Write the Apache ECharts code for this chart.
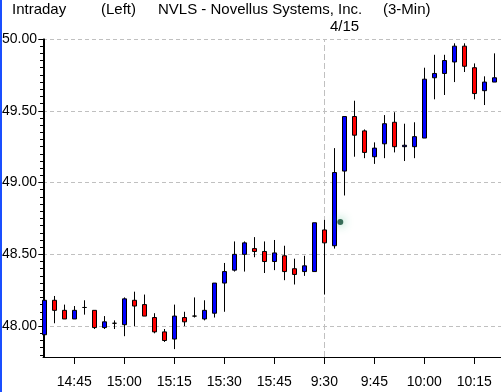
<!DOCTYPE html>
<html><head><meta charset="utf-8">
<script src="https://cdn.jsdelivr.net/npm/echarts@6/dist/echarts.min.js"></script>
<style>html,body{margin:0;padding:0;background:#fff}#c{width:501px;height:392px}</style>
</head><body><div id="c"></div>
<script>
// 3-minute bars, 4/14 afternoon then 4/15 morning
const times = ['14:36','14:39','14:42','14:45','14:48','14:51','14:54','14:57','15:00','15:03',
  '15:06','15:09','15:12','15:15','15:18','15:21','15:24','15:27','15:30','15:33',
  '15:36','15:39','15:42','15:45','15:48','15:51','15:54','15:57',
  '9:30','9:33','9:36','9:39','9:42','9:45','9:48','9:51','9:54','9:57',
  '10:00','10:03','10:06','10:09','10:12','10:15','10:18','10:21'];
const opens  = [47.94,48.18,48.11,48.05,48.13,48.11,47.99,48.02,48.01,48.18,
  48.15,48.06,47.96,47.91,48.06,48.07,48.05,48.09,48.30,48.39,
  48.50,48.54,48.52,48.45,48.49,48.40,48.38,48.38,
  48.67,48.56,49.08,49.46,49.36,49.18,49.27,49.42,49.25,49.25,
  49.31,49.73,49.76,49.84,49.95,49.80,49.64,49.70];
const closes = [48.18,48.11,48.05,48.11,48.13,47.99,48.03,48.02,48.19,48.14,
  48.07,47.96,47.90,48.07,48.03,48.07,48.11,48.30,48.38,48.50,
  48.58,48.52,48.45,48.51,48.38,48.36,48.42,48.72,
  48.58,49.07,49.46,49.33,49.21,49.24,49.41,49.25,49.26,49.32,
  49.72,49.76,49.85,49.95,49.81,49.62,49.70,49.73];
const lows   = [47.92,48.02,48.05,48.05,48.08,47.98,47.98,47.98,47.93,48.00,
  48.07,47.95,47.89,47.84,48.00,48.06,48.04,48.06,48.10,48.38,
  48.38,48.48,48.37,48.39,48.32,48.29,48.35,48.38,
  48.22,48.54,48.91,49.18,49.17,49.13,49.17,49.21,49.15,49.17,
  49.31,49.58,49.61,49.70,49.77,49.58,49.54,49.70];
const highs  = [48.19,48.21,48.15,48.14,48.18,48.11,48.07,48.04,48.20,48.24,
  48.22,48.09,47.98,48.15,48.10,48.20,48.18,48.30,48.44,48.59,
  48.59,48.62,48.59,48.60,48.56,48.47,48.49,48.72,
  48.74,49.24,49.46,49.57,49.37,49.28,49.47,49.49,49.41,49.42,
  49.80,49.89,49.89,49.97,49.97,49.83,49.74,49.90];
const tickTimes = ['14:45','15:00','15:15','15:30','15:45','9:30','9:45','10:00','10:15'];
const yTickValues = [48.00,48.50,49.00,49.50,50.00];
const dayBreakTime = '9:30';
const dayBreakLabel = '4/15';
const cursorPoint = [29.6, 48.726];

const tickIdx = tickTimes.map(t => times.indexOf(t));
const candleData = times.map((t, i) => [i, opens[i], closes[i], lows[i], highs[i]]);
const minorVals = [];
for (let v = 47.80; v <= 50.001; v += 0.05) minorVals.push(+v.toFixed(2));

const FONT = '"Liberation Sans", Arial, sans-serif';
const chart = echarts.init(document.getElementById('c'), null, {renderer: 'canvas'});
chart.setOption({
  animation: false,
  backgroundColor: '#fff',
  grid: {left: 43, right: 0, top: 39, bottom: 35, outerBoundsMode: 'none'},
  xAxis: {
    type: 'value', min: -0.13, max: 45.67,
    axisLine: {show: true, lineStyle: {color: '#000', width: 1}},
    axisTick: {show: true, length: 7, customValues: tickIdx, lineStyle: {color: '#000'}},
    axisLabel: {show: true, customValues: tickIdx, margin: 18, color: '#000',
      fontFamily: FONT, fontSize: 14, formatter: v => times[Math.round(v)]},
    splitLine: {show: false}
  },
  yAxis: [{
    type: 'value', position: 'left', min: 47.785, max: 50.0,
    axisLine: {show: true, lineStyle: {color: '#000', width: 1}},
    axisTick: {show: true, length: 6, customValues: yTickValues, lineStyle: {color: '#000'}},
    axisLabel: {show: true, customValues: yTickValues, margin: 6, color: '#000',
      fontFamily: FONT, fontSize: 14, formatter: v => v.toFixed(2)},
    splitLine: {show: true, lineStyle: {color: '#c0c0c0', type: [4, 3], width: 1}}
  }, {
    type: 'value', position: 'left', offset: 0, min: 47.785, max: 50.0,
    axisLine: {show: true, lineStyle: {color: '#000', width: 1}},
    axisTick: {show: true, length: 3, customValues: minorVals, lineStyle: {color: '#000'}},
    axisLabel: {show: false},
    splitLine: {show: false}
  }],
  series: [{
    type: 'candlestick',
    z: 3,
    data: candleData,
    encode: {x: 0, y: [1, 2, 3, 4]},
    barWidth: 4,
    itemStyle: {color: '#0000ff', color0: '#ff0000', borderColor: '#000', borderColor0: '#000', borderWidth: 1},
    markLine: {
      z: 1,
      silent: true, symbol: ['none', 'none'],
      label: {show: false},
      lineStyle: {color: '#c0c0c0', type: [6, 3], width: 1},
      data: [{xAxis: times.indexOf(dayBreakTime)}]
    }
  }, {
    type: 'scatter',
    z: 4,
    data: [cursorPoint],
    symbolSize: 6,
    itemStyle: {color: '#0b4a32', shadowBlur: 10, shadowColor: 'rgba(30,170,110,1)'},
    silent: true
  }],
  graphic: [
    {type: 'rect', left: 0, top: 0, shape: {width: 2, height: 392}, style: {fill: '#1a4fff'}},
    {type: 'text', left: 12, top: 2, style: {text: 'Intraday', font: '15px ' + FONT, fill: '#000'}},
    {type: 'text', left: 101, top: 2, style: {text: '(Left)', font: '15px ' + FONT, fill: '#000'}},
    {type: 'text', left: 158, top: 2, style: {text: 'NVLS - Novellus Systems, Inc.', font: '15px ' + FONT, fill: '#000'}},
    {type: 'text', left: 383, top: 2, style: {text: '(3-Min)', font: '15px ' + FONT, fill: '#000'}},
    {type: 'text', left: 330, top: 19, style: {text: dayBreakLabel, font: '15px ' + FONT, fill: '#000'}}
  ]
});
</script></body></html>
